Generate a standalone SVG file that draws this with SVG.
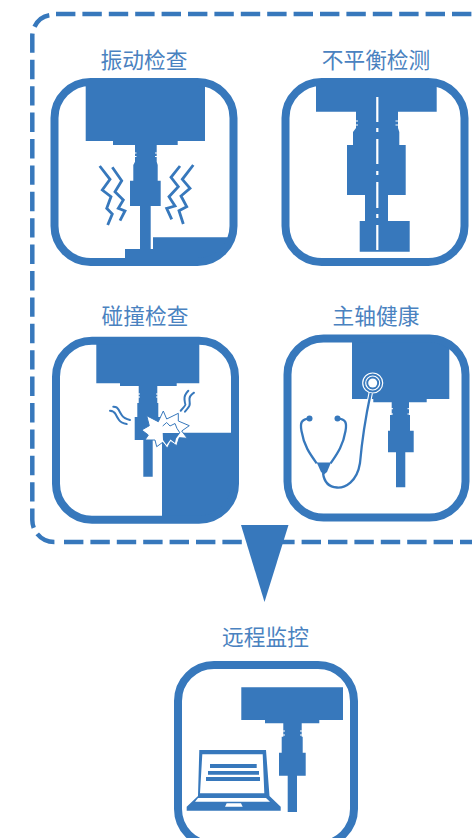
<svg xmlns="http://www.w3.org/2000/svg" width="472" height="838" viewBox="0 0 472 838">
<style>
.f{fill:#3778bc}
.bg{fill:#fff}
.card{fill:none;stroke:#3778bc;stroke-width:8}
.lbl{font-family:"Noto Sans CJK SC","Liberation Sans",sans-serif;font-size:21.700px;fill:#4a82c0;text-anchor:middle}
.w{fill:none;stroke:#3778bc;stroke-width:2.800;stroke-linejoin:miter}
.t{fill:none;stroke:#3778bc;stroke-width:2;stroke-linecap:round;stroke-linejoin:round}
.n{fill:#fff}
.dash{fill:none;stroke:#3778bc;stroke-width:4.500;stroke-dasharray:19.400 7}
</style>
<defs>
<clipPath id="c1"><rect x="54.500" y="82" width="179" height="180" rx="36"/></clipPath>
<clipPath id="c3"><rect x="56" y="340.700" width="179" height="179" rx="36"/></clipPath>
</defs>
<rect width="472" height="838" fill="#fff"/>
<g id="frame">
<path class="dash" d="M56 14H480"/>
<path class="dash" d="M49.300 15.200A20 22 0 0 0 32.300 35V520A22 22 0 0 0 56 542"/>
<path class="dash" d="M64 542H480"/>
</g>
<g id="connectors">
<polygon class="f" points="241,525 288.500,525 264.500,602"/>
</g>
<g id="vib">
<text class="lbl" x="144" y="68">振动检查</text>
<rect class="bg" x="54.500" y="82" width="179" height="180" rx="36"/>
<g clip-path="url(#c1)">
<path class="f" d="M85.700 80H205V141H177.700V145H156.700V161.700L157.700 165V180.700H160.700V206H150.700V249H140V206H130V180.700H133.300V165L135 161.700V145H113V141H85.700Z"/>
<path class="f" d="M125 264V249H153V237.300H236V264Z"/>
</g>
<rect class="n" x="134" y="152.500" width="2.500" height="1"/><rect class="n" x="134" y="156" width="2.500" height="1"/>
<rect class="n" x="155" y="152.500" width="2.500" height="1"/><rect class="n" x="155" y="156" width="2.500" height="1"/>
<rect class="card" x="54.500" y="82" width="179" height="180" rx="36"/>
<polyline class="w" points="99.700,166 110,179.300 102.300,190 111,196.700 106.700,208.300 112.300,214 107.700,225"/>
<polyline class="w" points="112.300,167.300 121.700,180.700 115,191.700 123.300,200 118.300,208.300 125,211 120,220.700"/>
<polyline class="w" points="180,166 171,177.300 178.300,186.700 169,196.700 175,206 166.700,208.300 171.700,219.300"/>
<polyline class="w" points="193.300,165 182.300,179.300 190,188.300 181,196 186.700,206.700 179,210.700 183.300,224"/>
</g>
<g id="unbalance">
<text class="lbl" x="376" y="68">不平衡检测</text>
<rect class="bg" x="285.500" y="82" width="179" height="180" rx="36"/>
<path class="f" d="M316 84H436.700V111.700H398V128L399.300 132V145H405.700V195H388V221H409.700V251.700H359.700V221H365V195H347V145H353V132L356 128V111.700H316Z"/>
<rect class="n" x="355" y="120.500" width="3" height="1"/><rect class="n" x="355" y="124.500" width="3" height="1"/>
<rect class="n" x="395.500" y="120.500" width="3" height="1"/><rect class="n" x="395.500" y="124.500" width="3" height="1"/>
<path d="M377.300 97V122M377.300 128V132M377.300 139V164M377.300 171V175M377.300 182V208M377.300 214V218M377.300 225V250" stroke="#fff" stroke-width="2.200" fill="none"/>
<rect class="card" x="285.500" y="82" width="179" height="180" rx="36"/>
</g>
<g id="collision">
<text class="lbl" x="145" y="324">碰撞检查</text>
<rect class="bg" x="56" y="340.700" width="179" height="179" rx="36"/>
<g clip-path="url(#c3)">
<path class="f" d="M96.300 338H199.300V383.300H176.700V386H157.300V403H158.300V417H161.700V440H152.700V476.700H143.300V440H134.700V417H137.300V403H138.700V386H120V383.300H96.300Z"/>
<path class="f" d="M162 432.700H238V524H162Z"/>
</g>
<rect class="n" x="138" y="393.500" width="2" height="1"/><rect class="n" x="138" y="396.500" width="2" height="1"/>
<rect class="n" x="156" y="393.500" width="2" height="1"/><rect class="n" x="156" y="396.500" width="2" height="1"/>
<rect class="card" x="56" y="340.700" width="179" height="179" rx="36"/>
<polygon fill="#fff" stroke="#3778bc" stroke-width="1" points="141.700,430 149.300,425.700 146.700,415.700 158.300,421.700 163.300,411 166.700,419 178.300,413.300 178.300,421 189.300,425.700 181.700,431 187.300,438.300 179.300,437.700 176.700,445.700 170.700,441.700 167.300,448.300 162.700,442.300 156.700,446.700 155,440 145,440 148.300,435"/>
<path class="f" d="M162.700 433H180L176 438.500L175 443L170.500 439.500L166.500 445L163 440Z"/>
<polyline points="162.700,426 166.700,422.500 170,426 175,423.500 177,428.500 180,433" fill="none" stroke="#3778bc" stroke-width="1"/>
<path class="t" d="M113.300 406.700Q117 406.500 118.500 409.500T122 415.500T130 420"/>
<path class="t" d="M110 410.700Q114 411 115.500 414T119 420T126.700 424"/>
<path class="t" d="M188.300 390.700Q184 395 184.500 399.500T185.500 404.500T180.700 410.700"/>
<path class="t" d="M194 392.700Q189 396 189.500 400T189.500 405.500T185 411.700"/>
</g>
<g id="health">
<text class="lbl" x="376" y="324">主轴健康</text>
<rect class="bg" x="287.500" y="338.500" width="178" height="179" rx="36"/>
<path class="f" d="M352 340H449.300V399H426.700V402.300H409V415H410V430.700H413.700V452.300H405.300V487.300H396V452.300H388V430.700H390V415H391.700V402.300H373.300V399H352Z"/>
<rect class="n" x="391" y="408.200" width="2" height="1"/><rect class="n" x="391" y="413.500" width="2" height="1"/>
<rect class="n" x="407.500" y="408.200" width="2" height="1"/><rect class="n" x="407.500" y="413.500" width="2" height="1"/>
<rect class="card" x="287.500" y="338.500" width="178" height="179" rx="36"/>
<circle cx="372.700" cy="383" r="10" fill="none" stroke="#fff" stroke-width="1.200"/>
<circle cx="372.700" cy="383" r="7" fill="none" stroke="#fff" stroke-width="1.200"/>
<circle cx="372.700" cy="383" r="4.500" fill="#fff"/>
<path d="M370.700 393C365 420 362 440 360 463C357 482 345 488 337 487.500C328 487 324 481 323 473" fill="none" stroke="#fff" stroke-width="4.500"/>
<path d="M370.700 393C365 420 362 440 360 463C357 482 345 488 337 487.500C328 487 324 481 323 473" fill="none" stroke="#3778bc" stroke-width="2.300"/>
<path d="M310 418.300C301 419 300 423 301.500 431C304 446 310 454 316.700 463.300M337.300 418.300C346 419 347 423 345.500 431C343 446 337 454 330.700 463.300" fill="none" stroke="#3778bc" stroke-width="2.300"/>
<circle cx="309.500" cy="418.500" r="3" class="f"/>
<circle cx="337.500" cy="418.500" r="3" class="f"/>
<path class="f" d="M316.700 462.500H331L327 472L324 474.500L321 472Z"/>
</g>
<g id="remote">
<text class="lbl" x="265.500" y="645">远程监控</text>
<rect class="bg" x="178" y="665" width="176" height="180" rx="36"/>
<rect class="card" x="178" y="665" width="176" height="180" rx="36"/>
<path class="f" d="M241.300 687.300H343V720H319.300V723.300H301.700V736.700H302.700V752.700H305.700V775.700H297V812H287.700V775.700H279V752.700H281.700V736.700H283.300V723.300H265V720H241.300Z"/>
<rect class="n" x="283" y="730.500" width="2" height="1"/><rect class="n" x="283" y="734.500" width="2" height="1"/>
<rect class="n" x="300" y="730.500" width="2" height="1"/><rect class="n" x="300" y="734.500" width="2" height="1"/>
<path class="f" fill-rule="evenodd" d="M199.300 750H266L269.500 796L280.700 806.700V810.700H186.700V806.700L198 796ZM202.300 754.300L200 793.300H264.300L262.700 754.300Z"/>
<path d="M198 798H266L270 801.700H195Z" fill="#fff"/>
<path d="M226.700 803.300H241L242.700 806.700H225Z" fill="#fff"/>
<path class="f" d="M210 764H256.700V768H210ZM208 771H259V774.700H208ZM206 777H260V781H206Z"/>
</g>
</svg>
